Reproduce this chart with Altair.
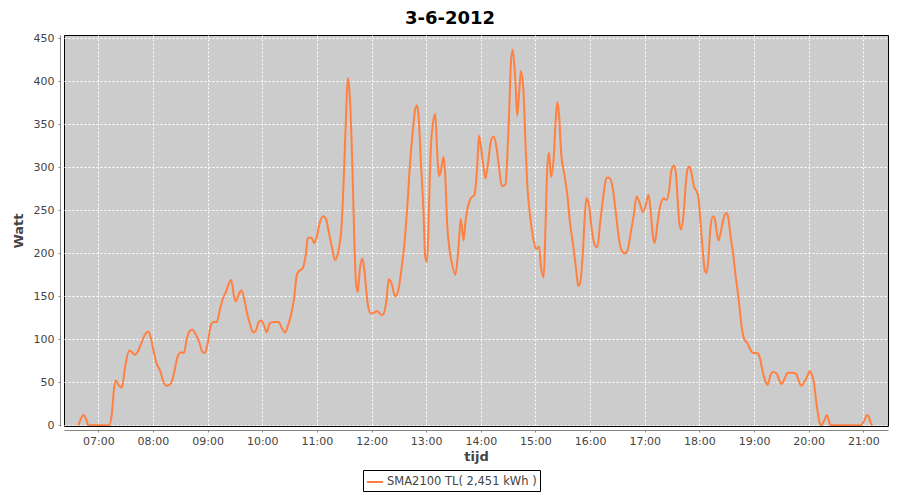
import altair as alt
import pandas as pd

TITLE = "3-6-2012"
SERIES = "SMA2100 TL( 2,451 kWh )"

times = [
    "06:38", "06:41", "06:44", "06:47", "06:49", "07:12", "07:15", "07:17", "07:19", "07:23",
    "07:26", "07:29", "07:34", "07:36", "07:40", "07:43", "07:47", "07:51", "07:55", "07:58",
    "08:01", "08:04", "08:08", "08:11", "08:15", "08:18", "08:21", "08:24", "08:27", "08:31",
    "08:34", "08:37", "08:40", "08:43", "08:47", "08:51", "08:54", "08:57", "09:00", "09:04",
    "09:07", "09:10", "09:14", "09:17", "09:20", "09:23", "09:26", "09:29", "09:31", "09:34",
    "09:37", "09:40", "09:43", "09:47", "09:50", "09:53", "09:56", "09:59", "10:02", "10:05",
    "10:08", "10:12", "10:18", "10:22", "10:25", "10:28", "10:32", "10:35", "10:38", "10:41",
    "10:44", "10:48", "10:50", "10:54", "10:57", "11:00", "11:03", "11:07", "11:10", "11:13",
    "11:17", "11:20", "11:23", "11:27", "11:30", "11:32", "11:34", "11:36", "11:39", "11:41",
    "11:43", "11:45", "11:47", "11:50", "11:52", "11:54", "11:56", "11:59", "12:03", "12:06",
    "12:09", "12:12", "12:16", "12:19", "12:22", "12:26", "12:29", "12:32", "12:36", "12:39",
    "12:42", "12:46", "12:48", "12:50", "12:52", "12:54", "12:57", "12:59", "13:01", "13:03",
    "13:05", "13:08", "13:10", "13:12", "13:14", "13:16", "13:19", "13:21", "13:23", "13:25",
    "13:28", "13:32", "13:35", "13:38", "13:41", "13:43", "13:46", "13:49", "13:53", "13:56",
    "13:58", "14:00", "14:03", "14:05", "14:08", "14:11", "14:14", "14:17", "14:20", "14:23",
    "14:27", "14:29", "14:31", "14:33", "14:35", "14:38", "14:40", "14:42", "14:44", "14:47",
    "14:49", "14:51", "14:54", "14:58", "15:01", "15:04", "15:06", "15:09", "15:11", "15:13",
    "15:15", "15:17", "15:20", "15:22", "15:24", "15:26", "15:28", "15:32", "15:35", "15:38",
    "15:42", "15:45", "15:47", "15:49", "15:52", "15:54", "15:56", "15:59", "16:01", "16:05",
    "16:08", "16:11", "16:15", "16:18", "16:21", "16:25", "16:28", "16:31", "16:34", "16:38",
    "16:41", "16:44", "16:48", "16:51", "16:54", "16:58", "17:01", "17:04", "17:06", "17:09",
    "17:11", "17:14", "17:17", "17:21", "17:24", "17:27", "17:29", "17:32", "17:34", "17:36",
    "17:38", "17:40", "17:43", "17:45", "17:47", "17:49", "17:51", "17:54", "17:57", "17:59",
    "18:01", "18:04", "18:06", "18:08", "18:10", "18:12", "18:15", "18:17", "18:19", "18:21",
    "18:23", "18:26", "18:28", "18:30", "18:32", "18:34", "18:37", "18:40", "18:43", "18:46",
    "18:49", "18:53", "18:56", "18:59", "19:03", "19:06", "19:09", "19:13", "19:15", "19:18",
    "19:21", "19:25", "19:28", "19:30", "19:34", "19:36", "19:39", "19:42", "19:46", "19:49",
    "19:52", "19:55", "19:59", "20:01", "20:03", "20:06", "20:08", "20:10", "20:12", "20:14",
    "20:18", "20:20", "20:22", "20:24", "20:57", "21:01", "21:04", "21:06", "21:08", "21:10",
]

watts = [
    0, 8, 12, 6, 0, 0, 15, 40, 52, 46,
    44, 65, 87, 86, 82, 85, 95, 105, 109, 100,
    85, 72, 63, 52, 46, 47, 52, 65, 80, 85,
    84, 100, 109, 111, 106, 96, 86, 84, 95, 118,
    120, 120, 137, 148, 155, 164, 169, 150, 144, 152,
    157, 148, 132, 116, 108, 110, 120, 122, 116, 108,
    118, 120, 120, 112, 108, 115, 130, 148, 175, 180,
    182, 200, 218, 218, 212, 220, 235, 243, 240, 225,
    205, 192, 200, 230, 300, 360, 404, 385, 300, 220,
    165, 155, 180, 194, 182, 160, 140, 130, 131, 133,
    130, 128, 142, 170, 165, 150, 155, 175, 210, 250,
    300, 350, 368, 372, 355, 310, 250, 195, 190, 250,
    320, 355, 362, 320, 290, 295, 312, 290, 235, 210,
    190, 175, 200, 240, 215, 235, 255, 264, 268, 300,
    337, 325, 300, 287, 305, 330, 336, 325, 300, 278,
    280, 310, 360, 420, 437, 400, 360, 385, 412, 385,
    330, 280, 245, 215, 205, 208, 185, 172, 230, 300,
    317, 289, 310, 350, 376, 360, 320, 290, 268, 235,
    205, 178, 162, 165, 200, 240, 264, 255, 235, 210,
    207, 235, 270, 288, 288, 275, 250, 222, 205, 200,
    203, 220, 245, 266, 260, 248, 255, 268, 255, 220,
    212, 235, 255, 264, 262, 275, 295, 302, 295, 265,
    235, 228, 250, 280, 298, 301, 295, 278, 272, 265,
    240, 200, 180, 177, 195, 228, 243, 240, 225, 215,
    222, 238, 245, 247, 240, 222, 200, 172, 148, 118,
    101, 95, 88, 84, 84, 80, 65, 50, 47, 58,
    62, 60, 52, 48, 55, 60, 61, 61, 60, 52,
    46, 50, 58, 63, 60, 48, 30, 15, 3, 0,
    8, 12, 6, 0, 0, 5, 12, 10, 3, 0,
]

hour_ticks = list(range(7, 22))


def to_hours(s):
    h, m = s.split(":")
    return int(h) + int(m) / 60.0


df = pd.DataFrame({
    "hours": [to_hours(t) for t in times],
    "watt": watts,
    "series": [SERIES] * len(times),
})

grid_color = "white"
axis_gray = "#888888"
label_gray = "#444444"

x_enc = alt.X(
    "hours:Q",
    scale=alt.Scale(domain=[6.372, 21.452], nice=False, zero=False),
    axis=alt.Axis(
        title="tijd",
        values=hour_ticks,
        labelExpr="(datum.value < 10 ? '0' : '') + datum.value + ':00'",
        grid=True, gridColor=grid_color, gridDash=[2, 2], gridWidth=1, gridOpacity=1,
        domainColor=axis_gray, tickColor=axis_gray, tickSize=2, offset=4,
        labelFont="DejaVu Sans", labelFontSize=11, labelColor=label_gray, labelPadding=3,
        titleFont="DejaVu Sans", titleFontSize=13, titleFontWeight="bold", titleColor=label_gray,
        titlePadding=4, labelFlush=False,
    ),
)

y_enc = alt.Y(
    "watt:Q",
    scale=alt.Scale(domain=[-0.8, 453.9], nice=False, zero=False),
    axis=alt.Axis(
        title="Watt",
        values=list(range(0, 451, 50)),
        grid=True, gridColor=grid_color, gridDash=[2, 2], gridWidth=1, gridOpacity=1,
        domainColor=axis_gray, tickColor=axis_gray, tickSize=2, offset=4,
        labelFont="DejaVu Sans", labelFontSize=11, labelColor=label_gray, labelPadding=4,
        titleFont="DejaVu Sans", titleFontSize=13, titleFontWeight="bold", titleColor=label_gray,
        titlePadding=8, labelFlush=False,
    ),
)

chart = alt.Chart(df).mark_line(
    strokeWidth=2, interpolate="monotone", clip=True
).encode(
    x=x_enc,
    y=y_enc,
    color=alt.Color(
        "series:N",
        scale=alt.Scale(range=["#ff8040"]),
        legend=alt.Legend(
            title=None, orient="none", legendX=299, legendY=435,
            symbolType="stroke", symbolSize=256, symbolStrokeWidth=2,
            labelFont="DejaVu Sans", labelFontSize=11.5, labelColor=label_gray,
            labelOffset=3, padding=3, strokeColor="black", fillColor="white",
        ),
    ),
).properties(
    width=824,
    height=391,
    background="white",
    title=alt.TitleParams(
        TITLE, font="DejaVu Sans", fontSize=18, fontWeight="bold", color="black",
        anchor="middle", dx=-26, offset=4,
    ),
    autosize=alt.AutoSizeParams(type="none"),
    padding={"left": 56, "top": 27, "right": 4, "bottom": 66},
).configure_view(
    fill="#cccccc", stroke="black", strokeWidth=1
)

chart.save("out.html", embed_options={"renderer": "svg", "actions": False})
